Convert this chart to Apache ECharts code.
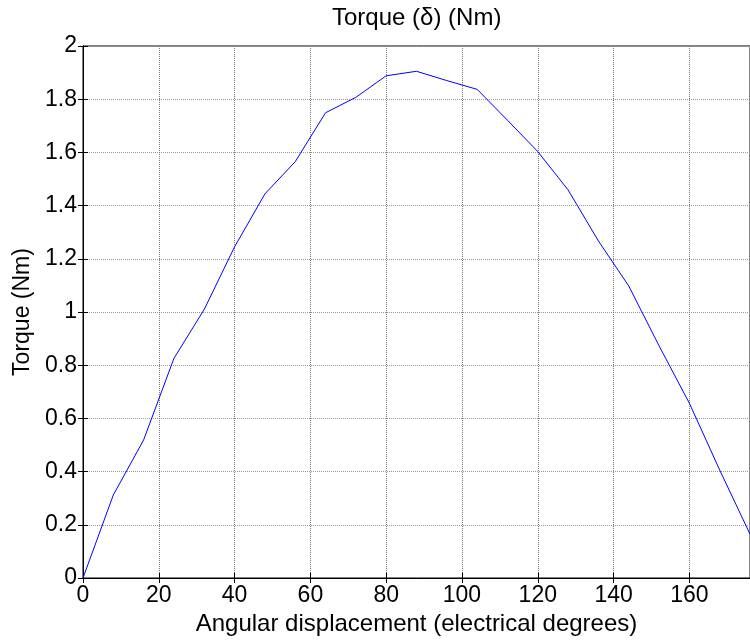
<!DOCTYPE html>
<html>
<head>
<meta charset="utf-8">
<script src="https://cdn.jsdelivr.net/npm/echarts@6/dist/echarts.min.js"></script>
<style>
html,body{margin:0;padding:0;background:#fff;}
#chart{width:750px;height:642px;}
</style>
</head>
<body>
<div id="chart"></div>
<script>
// Angular displacement (electrical degrees)
var angles = [0, 8, 16, 24, 32, 40, 48, 56, 64, 72, 80, 88, 96, 104, 112, 120, 128, 136, 144, 152, 160, 168, 176];
// Torque (Nm)
var torque = [0, 0.312, 0.519, 0.826, 1.010, 1.245, 1.444, 1.565, 1.749, 1.807, 1.888, 1.905, 1.870, 1.837, 1.721, 1.603, 1.459, 1.267, 1.098, 0.873, 0.657, 0.406, 0.165];

var titleText = 'Torque (\u03b4) (Nm)';
var xName = 'Angular displacement (electrical degrees)';
var yName = 'Torque (Nm)';

var FONT = "'Liberation Sans', Arial, sans-serif";
var points = angles.map(function (a, i) { return [a, torque[i]]; });

var chart = echarts.init(document.getElementById('chart'), null, {renderer: 'canvas'});
chart.setOption({
  animation: false,
  backgroundColor: '#fff',
  title: {
    text: titleText,
    left: 332,
    top: 6,
    padding: 0,
    textStyle: {fontFamily: FONT, fontSize: 24, fontWeight: 'normal', color: '#000'}
  },
  grid: {
    left: 83, top: 46, bottom: 64, right: -4,
    show: true, borderColor: '#000', borderWidth: 1, backgroundColor: 'transparent'
  },
  xAxis: [{
    type: 'value', min: 0, max: 176, interval: 20,
    name: xName, nameLocation: 'middle', nameGap: 31,
    nameTextStyle: {fontFamily: FONT, fontSize: 24, color: '#000'},
    axisLine: {show: true, onZero: false, lineStyle: {color: '#000', width: 1}},
    axisTick: {show: true, inside: true, length: 5, lineStyle: {color: '#000'}},
    axisLabel: {fontFamily: FONT, fontSize: 23, color: '#000', margin: 6, showMaxLabel: false},
    splitLine: {show: true, lineStyle: {color: '#777', type: 'dotted', width: 1}}
  }, {
    type: 'value', min: 0, max: 176, interval: 20, position: 'top',
    axisLine: {show: true, lineStyle: {color: '#000'}},
    axisTick: {show: true, inside: true, length: 5, lineStyle: {color: '#000'}},
    axisLabel: {show: false},
    splitLine: {show: false}
  }],
  yAxis: [{
    type: 'value', min: 0, max: 2, interval: 0.2,
    name: yName, nameLocation: 'middle', nameGap: 45, nameRotate: 90,
    nameTextStyle: {fontFamily: FONT, fontSize: 23, color: '#000'},
    axisLine: {show: true, onZero: false, lineStyle: {color: '#000', width: 1}},
    axisTick: {show: true, inside: true, length: 5, lineStyle: {color: '#000'}},
    axisLabel: {fontFamily: FONT, fontSize: 23, color: '#000', margin: 6},
    splitLine: {show: true, lineStyle: {color: '#999', type: 'dotted', width: 1}}
  }, {
    type: 'value', min: 0, max: 2, interval: 0.2, position: 'right',
    axisLine: {show: true, lineStyle: {color: '#000'}},
    axisTick: {show: true, inside: true, length: 5, lineStyle: {color: '#000'}},
    axisLabel: {show: false},
    splitLine: {show: false}
  }],
  series: [{
    type: 'line',
    data: points,
    xAxisIndex: 0, yAxisIndex: 0,
    showSymbol: false,
    symbol: 'none',
    clip: true,
    lineStyle: {color: '#0000ff', width: 1}
  }]
});
</script>
</body>
</html>
